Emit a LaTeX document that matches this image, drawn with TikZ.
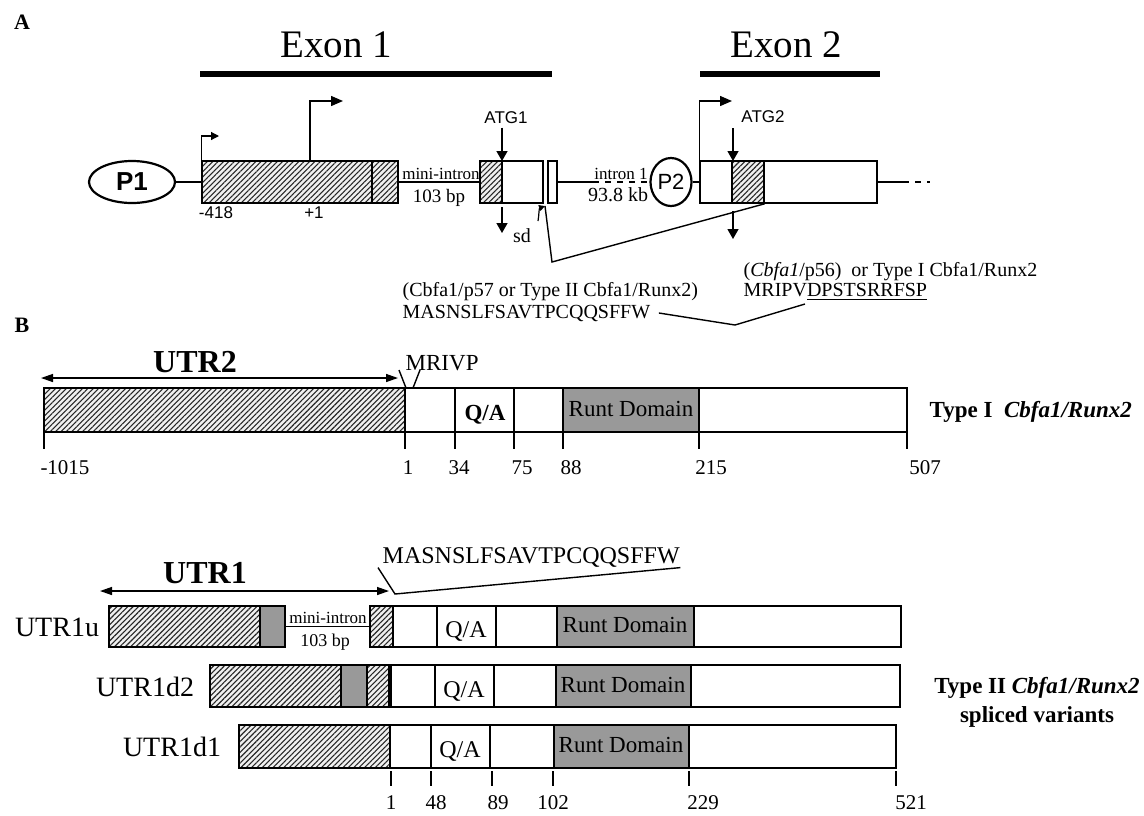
\documentclass[tikz,border=0pt]{standalone}
\usepackage{fontspec}
\setmainfont{Liberation Serif}
\newfontfamily\arialfont{Liberation Sans}
\usepackage{tikz}
\usetikzlibrary{positioning,arrows.meta,shapes.geometric,patterns.meta,fit}
\tikzset{hatchbox/.style={draw, line width=0.75pt, preaction={fill=black!6}, pattern={Lines[angle=45,distance=1.9pt,line width=0.55pt]}, pattern color=black!85, inner sep=0pt}}
\tikzset{whitebox/.style={draw, line width=0.75pt, fill=white, inner sep=0pt}}
\tikzset{greybox/.style={draw, line width=0.75pt, fill=black!40, inner sep=0pt}}
\tikzset{exonbar/.style={line width=3pt}}
\tikzset{tssarrow/.style={-{Triangle[length=6pt,width=5pt]}, line width=0.7pt}}
\tikzset{atgarrow/.style={-{Triangle[length=5pt,width=5.5pt]}, line width=0.7pt}}
\tikzset{spanarrow/.style={{Triangle[length=6pt,width=4pt]}-{Triangle[length=6pt,width=4pt]}, line width=0.7pt}}
\tikzset{scaletick/.style={line width=0.6pt}}
\tikzset{seqtext/.style={font=\fontsize{10}{12}\selectfont, inner sep=0pt, anchor=west}}
\tikzset{numtext/.style={font=\fontsize{10.5}{12}\selectfont, inner sep=0pt}}
\tikzset{rowlabel/.style={font=\fontsize{14}{16}\selectfont, inner sep=0pt}}
\tikzset{domtext/.style={font=\fontsize{11.5}{12}\selectfont, inner sep=0pt}}

\begin{document}
\begin{tikzpicture}[x=0.5pt,y=-0.5pt,line width=0.7pt]
\useasboundingbox (0,0) rectangle (1144,815);

% ---------- A: gene structure
\node[font=\bfseries\fontsize{11}{12}\selectfont] (lblA) at (22,22) {A};
\node[font=\fontsize{19.5}{22}\selectfont] (exon1) at (336,45) {Exon 1};
\node[font=\fontsize{19.5}{22}\selectfont] (exon2) at (786,45) {Exon 2};
\draw[exonbar] (200,74) -- (552,74);
\draw[exonbar] (700,74) -- (880,74);

\node[ellipse, draw, line width=1.1pt, minimum width=43pt, minimum height=21pt, inner sep=0pt,
  font=\arialfont\bfseries\fontsize{13}{14}\selectfont] (P1) at (132,182) {P1};
\node[hatchbox, fit={(202,161) (398,203)}] (e1main) {};
\draw[line width=1.4pt] (372,161) -- (372,203);
\node[hatchbox, fit={(480,161) (502,203)}] (e1atg) {};
\node[whitebox, fit={(502,161) (543,203)}] (e1cds) {};
\node[whitebox, fit={(548,161) (557,203)}] (e1sd) {};
\node[ellipse, draw, line width=1.1pt, minimum width=20.5pt, minimum height=24pt, inner sep=0pt,
  font=\arialfont\fontsize{11}{12}\selectfont] (P2) at (671,182) {P2};
\node[whitebox, fit={(700,161) (877,203)}] (e2box) {};
\node[hatchbox, fit={(732,161) (764,203)}] (e2atg) {};

\coordinate (i1dash) at (593,182);
\coordinate (tailA) at (903,182);
\coordinate (tailB) at (930,182);
\draw (P1) -- (e1main);
\draw (e1main) -- (e1atg);
\draw (e1sd) -- (i1dash);
\draw[dashed] (i1dash) -- (P2);
\draw (P2) -- (e2box);
\draw (e2box) -- (tailA);
\draw[dashed] (tailA) -- (tailB);

\node[font=\fontsize{8.5}{9}\selectfont, inner sep=0pt, anchor=south] (minilbl) at (441,180) {mini-intron};
\node[font=\fontsize{9.5}{10}\selectfont, inner sep=0pt] (bplbl) at (439,198) {103 bp};
\node[font=\fontsize{8.5}{9}\selectfont, inner sep=0pt, anchor=south] (intlbl) at (621,180) {intron 1};
\node[font=\fontsize{10}{10}\selectfont, inner sep=0pt] (kblbl) at (618,195) {93.8 kb};
\node[font=\arialfont\fontsize{8.5}{9}\selectfont, inner sep=0pt] (m418) at (216,213) {-418};
\node[font=\arialfont\fontsize{8.5}{9}\selectfont, inner sep=0pt] (p1lbl) at (314,213) {+1};

% transcription starts
\draw[{Triangle[length=4pt,width=4pt]}-, line width=0.6pt] (219,136) -| (e1main.north west);
\coordinate (tss2) at (310,161);
\draw[tssarrow] (tss2) |- (343,101);
\draw[tssarrow] (e2box.north west) |- (732,101);

% start codons
\node[font=\arialfont\fontsize{8.5}{9}\selectfont, inner sep=1.5pt] (atg1) at (506,118) {ATG1};
\coordinate (atg1tip) at (502,161);
\draw[atgarrow] (atg1.south -| atg1tip) -- (atg1tip);
\node[font=\arialfont\fontsize{8.5}{9}\selectfont, inner sep=0pt] (atg2) at (763,117) {ATG2};
\coordinate (atg2top) at (733,128);
\coordinate (atg2tip) at (733,161);
\draw[atgarrow] (atg2top) -- (atg2tip);
\coordinate (dn1a) at (502,207);
\coordinate (dn1b) at (502,233);
\draw[atgarrow] (dn1a) -- (dn1b);
\coordinate (dn2a) at (733,211);
\coordinate (dn2b) at (733,239);
\draw[atgarrow] (dn2a) -- (dn2b);

% splice donor
\node[font=\fontsize{10}{10}\selectfont, inner sep=0pt] (sdlbl) at (522,236) {sd};
\coordinate (sdfoot) at (538,221);
\coordinate (sdtip) at (545,206);
\draw[-{Triangle[length=3pt,width=3pt]}, line width=0.6pt] (sdfoot) to[out=80,in=200] (sdtip);
\coordinate (splvtx) at (552,262);
\draw (sdtip) -- (splvtx) -- (e2atg.south east);

\node[seqtext] (p57) at (402,292) {(Cbfa1/p57 or Type II Cbfa1/Runx2)};
\node[seqtext] (seqII) at (402,313) {MASNSLFSAVTPCQQSFFW};
\node[seqtext] (p56) at (743,272) {(\textit{Cbfa1}/p56)\ \ or Type I Cbfa1/Runx2};
\node[seqtext] (seqI) at (743,292) {MRIPV\underline{DPSTSRRFSP}};
\coordinate (jA) at (735,325);
\coordinate (jAr) at (805,304);
\draw ([xshift=4pt]seqII.east) -- (jA) -- (jAr);

% ---------- B: type I
\node[font=\bfseries\fontsize{11}{12}\selectfont] (lblB) at (22,325) {B};
\node[font=\bfseries\fontsize{16}{18}\selectfont] (utr2) at (195,362) {UTR2};
\coordinate (u2a) at (41,378);
\coordinate (u2b) at (398,378);
\draw[spanarrow] (u2a) -- (u2b);
\node[font=\fontsize{11.5}{12}\selectfont, inner sep=0pt, anchor=west] (mrivp) at (405,363) {MRIVP};
\coordinate (jB0) at (399,370);
\coordinate (jB1) at (406,388);
\coordinate (jB2) at (420,370);
\coordinate (jB3) at (413,388);
\draw (jB0) -- (jB1);
\draw (jB2) -- (jB3);

\draw[hatchbox] (44,388) rectangle (405,432);
\draw[whitebox] (405,388) rectangle (907,432);
\draw (455,388) -- (455,432);
\draw (514,388) -- (514,432);
\draw[greybox] (563,388) rectangle (699,432);
\node[font=\bfseries\fontsize{11.5}{12}\selectfont, inner sep=0pt] (qa1) at (485,415) {Q/A};
\node[domtext] (runt1) at (631,409) {Runt Domain};
\node[font=\bfseries\fontsize{11.5}{12}\selectfont, anchor=west, inner sep=0pt] (type1) at (929,412) {Type I\ \ \textit{Cbfa1/Runx2}};
\foreach \x/\t/\lx [count=\i] in {44/-1015/65, 405/1/408, 455/34/459, 514/75/522, 563/88/571, 699/215/711, 907/507/925} {
  \draw[scaletick] (\x,433) -- (\x,449);
  \node[numtext] (numI\i) at (\lx,468) {\t};
}

% ---------- B: type II variants
\node[font=\bfseries\fontsize{16}{18}\selectfont] (utr1) at (205,573) {UTR1};
\coordinate (u1a) at (100,591);
\coordinate (u1b) at (389,591);
\draw[spanarrow] (u1a) -- (u1b);
\node[font=\fontsize{12}{13}\selectfont, inner sep=0pt, anchor=west] (seqIIb) at (382,557) {MASNSLFSAVTPCQQSFFW};
\coordinate (jC) at (395,594);
\draw ([xshift=-2pt]seqIIb.south west) -- (jC) -- (seqIIb.south east);

% UTR1u
\node[rowlabel] (rowu) at (57,627) {UTR1u};
\draw[hatchbox] (109,606) rectangle (260,647);
\draw[greybox] (260,606) rectangle (285,647);
\draw (285,626.5) -- (370,626.5);
\node[font=\fontsize{8.5}{9}\selectfont, inner sep=0pt, anchor=south] (miniB) at (328,624) {mini-intron};
\node[font=\fontsize{9}{10}\selectfont, inner sep=0pt] (bpB) at (325,642) {103 bp};
\draw[hatchbox] (370,606) rectangle (393,647);
\draw[whitebox] (393,606) rectangle (901,647);
\draw (437,606) -- (437,647);
\draw (496,606) -- (496,647);
\draw[greybox] (557,606) rectangle (694,647);
\node[font=\fontsize{12}{13}\selectfont, inner sep=0pt] (qau) at (466,631) {Q/A};
\node[domtext] (runtu) at (625,625) {Runt Domain};

% UTR1d2
\node[rowlabel] (rowd2) at (145,687) {UTR1d2};
\draw[hatchbox] (210,665) rectangle (341,707);
\draw[greybox] (341,665) rectangle (367,707);
\draw[hatchbox] (367,665) rectangle (389,707);
\draw[whitebox] (391,665) rectangle (900,707);
\draw[line width=1.4pt] (390,665) -- (390,707);
\draw (435,665) -- (435,707);
\draw (494,665) -- (494,707);
\draw[greybox] (556,665) rectangle (691,707);
\node[font=\fontsize{12}{13}\selectfont, inner sep=0pt] (qad2) at (464,691) {Q/A};
\node[domtext] (runtd2) at (623,685) {Runt Domain};

% UTR1d1
\node[rowlabel] (rowd1) at (172,747) {UTR1d1};
\draw[hatchbox] (239,725) rectangle (390,768);
\draw[whitebox] (390,725) rectangle (896,768);
\draw (431,725) -- (431,768);
\draw (490,725) -- (490,768);
\draw[greybox] (554,725) rectangle (689,768);
\node[font=\fontsize{12}{13}\selectfont, inner sep=0pt] (qad1) at (460,751) {Q/A};
\node[domtext] (runtd1) at (621,745) {Runt Domain};

\foreach \x/\t/\lx [count=\i] in {391/1/391, 431/48/436, 492/89/498, 553/102/553, 689/229/703, 896/521/911} {
  \draw[scaletick] (\x,771) -- (\x,786);
  \node[numtext] (numII\i) at (\lx,803) {\t};
}
\node[font=\bfseries\fontsize{11.5}{14.5}\selectfont, align=center, inner sep=0pt] (type2) at (1037,702)
  {Type II \textit{Cbfa1/Runx2}\\spliced variants};
\end{tikzpicture}
\end{document}
